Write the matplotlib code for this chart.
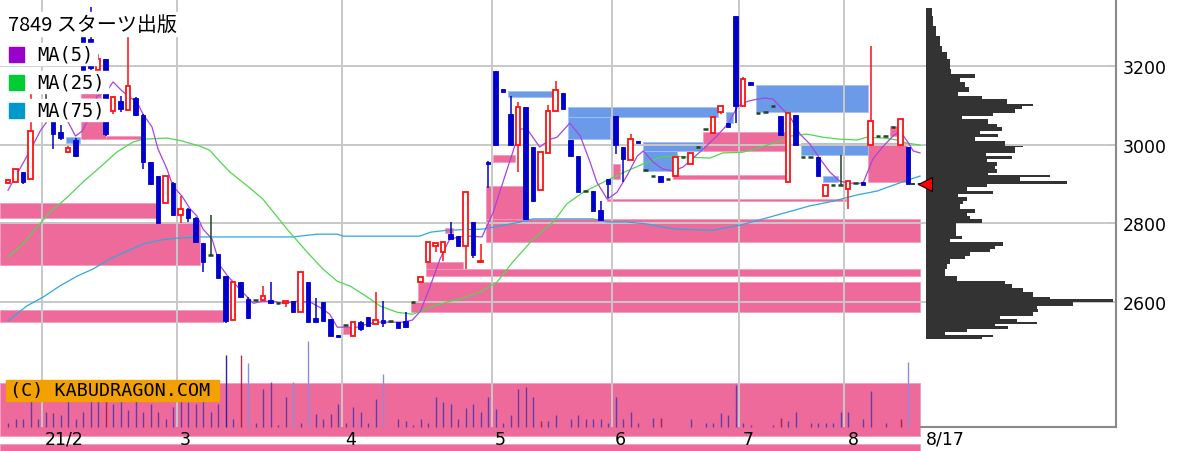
import numpy as np
import matplotlib
matplotlib.use('Agg')
import matplotlib.pyplot as plt
from matplotlib.patches import Rectangle
from matplotlib.transforms import Affine2D

plt.rcParams['font.family'] = ['DejaVu Sans']

# ---------------- data ----------------
opens = [2902, 2905, 2930, 2913, 3140, 3100, 3095, 3032, 2982, 3012,
         3275, 3270, 3190, 3218, 3086, 3111, 3088, 3119, 3076, 2956,
         2920, 2851, 2902, 2821, 2836, 2813, 2750, 2719, 2722, 2665,
         2554, 2651, 2607, 2604, 2604, 2604, 2597, 2597, 2602, 2574,
         2651, 2559, 2600, 2556, 2515, 2541, 2513, 2549, 2561, 2543,
         2553, 2551, 2548, 2551, 2600, 2651, 2700, 2742, 2727, 2772,
         2768, 2742, 2803, 2700, 2956, 3188, 3142, 3078, 3000, 3096,
         2994, 2885, 2979, 3086, 3132, 3012, 2972, 2882, 2882, 2834,
         2913, 3073, 2994, 2961, 3010, 2936, 2920, 2920, 2912, 2920,
         2968, 2951, 2994, 3040, 3030, 3083, 3055, 3328, 3099, 3160,
         3081, 3083, 3099, 3073, 2905, 3076, 2968, 2968, 2969, 2870,
         2898, 2898, 2887, 2903, 2905, 3000, 3022, 3022, 3045, 3000,
         2994]
highs = [2912, 2938, 2930, 3130, 3175, 3135, 3100, 3050, 2997, 3017,
         3280, 3350, 3230, 3218, 3125, 3124, 3277, 3121, 3078, 2956,
         2920, 2920, 2905, 2870, 2838, 2815, 2750, 2821, 2722, 2665,
         2651, 2651, 2612, 2604, 2640, 2651, 2597, 2602, 2602, 2676,
         2651, 2610, 2600, 2556, 2515, 2541, 2549, 2551, 2561, 2625,
         2602, 2551, 2548, 2574, 2600, 2662, 2751, 2750, 2752, 2803,
         2768, 2880, 2803, 2748, 2958, 3188, 3142, 3124, 3109, 3096,
         2994, 2981, 3101, 3162, 3132, 3012, 2972, 2882, 2882, 2857,
         2913, 3073, 2994, 3027, 3010, 2936, 2920, 2920, 2912, 2968,
         2968, 2979, 2994, 3040, 3071, 3098, 3055, 3328, 3173, 3160,
         3081, 3083, 3099, 3073, 3081, 3076, 2968, 2968, 2969, 2898,
         2898, 2974, 2908, 2903, 2905, 3252, 3022, 3022, 3045, 3066,
         2994]
lows = [2900, 2905, 2900, 2913, 3135, 3095, 2989, 3012, 2980, 2969,
        3185, 3190, 3185, 3022, 3078, 3083, 3086, 3073, 2938, 2898,
        2800, 2851, 2818, 2800, 2802, 2750, 2675, 2719, 2660, 2545,
        2554, 2612, 2556, 2604, 2604, 2594, 2597, 2587, 2574, 2574,
        2549, 2549, 2551, 2513, 2510, 2541, 2513, 2526, 2538, 2543,
        2536, 2551, 2533, 2533, 2600, 2651, 2700, 2727, 2704, 2760,
        2742, 2683, 2711, 2698, 2890, 3000, 3135, 3000, 2931, 2811,
        2854, 2885, 2979, 3086, 3091, 2972, 2880, 2882, 2831, 2808,
        2864, 2977, 2905, 2961, 3005, 2936, 2920, 2905, 2912, 2920,
        2968, 2951, 2994, 3040, 3030, 3078, 3045, 3055, 3099, 3152,
        3081, 3083, 3099, 3025, 2905, 3000, 2968, 2968, 2920, 2870,
        2898, 2898, 2836, 2903, 2898, 3000, 3022, 3022, 3045, 3000,
        2900]
closes = [2910, 2938, 2905, 3035, 3165, 3100, 3027, 3017, 2992, 2972,
          3190, 3195, 3218, 3027, 3122, 3091, 3149, 3075, 2956, 2900,
          2800, 2920, 2821, 2836, 2813, 2752, 2700, 2719, 2660, 2551,
          2651, 2612, 2558, 2604, 2615, 2597, 2597, 2602, 2574, 2676,
          2549, 2549, 2551, 2513, 2510, 2541, 2549, 2531, 2538, 2554,
          2546, 2551, 2533, 2536, 2600, 2662, 2751, 2750, 2752, 2760,
          2742, 2880, 2719, 2703, 2950, 3000, 3135, 3000, 3096, 2811,
          2857, 2981, 3086, 3140, 3091, 2972, 2880, 2882, 2831, 2808,
          2900, 3000, 2964, 3014, 3005, 2936, 2920, 2905, 2912, 2968,
          2968, 2979, 2994, 3040, 3071, 3098, 3045, 3099, 3168, 3152,
          3081, 3083, 3099, 3025, 3081, 3000, 2968, 2968, 2920, 2898,
          2898, 2898, 2908, 2903, 2898, 3061, 3022, 3022, 3045, 3066,
          2900]
volume = [13, 23, 23, 78, 23, 45, 41, 35, 78, 23,
          45, 78, 78, 78, 68, 78, 51, 78, 45, 68,
          45, 23, 61, 78, 75, 68, 78, 45, 68, 215,
          23, 215, 191, 13, 113, 135, 5, 90, 135, 13,
          258, 40, 23, 40, 68, 13, 61, 45, 13, 85,
          158, 1, 23, 18, 5, 23, 13, 90, 75, 68,
          23, 56, 68, 45, 90, 53, 13, 35, 113, 120,
          91, 18, 18, 35, 1, 23, 35, 23, 23, 23,
          13, 91, 23, 45, 13, 1, 28, 28, 1, 1,
          1, 23, 1, 13, 13, 41, 35, 125, 13, 5,
          1, 1, 5, 28, 18, 45, 1, 13, 13, 13,
          13, 45, 45, 1, 23, 108, 1, 13, 1, 23,
          196]
vol_red = [13, 31, 51, 71, 87, 103, 119]
vol_light = [32, 38, 40, 50, 120]
vol_dark = [29]

# moving averages: (bar index, price)
ma5_x = [0, 3.2, 4.3, 5.9, 8, 9, 9.9, 10.7, 11.9, 13.2, 14, 15.2, 16, 17.2, 18, 19.2, 20, 21.2, 22,
         23.2, 24.3, 25.2, 26, 27.2, 28.3, 29.3, 31.3, 32.7, 34, 35.3, 36.7, 38.5, 40.3, 42, 42.9,
         43.9, 45.2, 46.5, 47.9, 49.2, 50.9, 52.7, 53.9, 55, 56.3, 57.6, 58.9, 60.3, 61.6, 63.2,
         64.7, 66, 67.3, 68.3, 69.2, 70.9, 72.3, 73.2, 74.9, 76.3, 77.6, 78.5, 79.9, 81.2, 82.5,
         83.9, 84.7, 86, 87.3, 88.7, 90, 92.7, 94.5, 96, 97.3, 98.7, 99.9, 100.9, 102, 102.9,
         104.3, 105.6, 106.9, 108.3, 109.6, 110.9, 112.3, 114, 115.3, 116.7, 118, 118.9, 119.9,
         120.7, 121.6]
ma5_y = [2884, 2994, 3035, 3078, 3058, 3022, 3035, 3065, 3124, 3137, 3160, 3137, 3124, 3109, 3078,
         3045, 2989, 2938, 2894, 2869, 2836, 2818, 2785, 2760, 2691, 2665, 2624, 2596, 2601, 2601,
         2596, 2601, 2599, 2581, 2568, 2535, 2535, 2535, 2543, 2548, 2548, 2548, 2553, 2576, 2640,
         2709, 2760, 2765, 2767, 2765, 2828, 2905, 2981, 3040, 3040, 2994, 3014, 3019, 3055, 3022,
         2956, 2905, 2861, 2879, 2920, 2971, 2984, 2956, 2938, 2933, 2943, 2989, 3022, 3053, 3098,
         3111, 3116, 3119, 3116, 3098, 3070, 3027, 3002, 2963, 2930, 2907, 2902, 2902, 2963, 2996,
         3022, 3035, 3009, 2984, 2979]
ma25_x = [0, 2, 3.3, 5.6, 7.9, 10, 12.3, 14.5, 16.7, 18, 21.2, 23.3, 25.6, 26.9, 28.3, 29.6, 31.9,
          34, 37.2, 39.9, 42, 43.9, 45.6, 47.9, 49.6, 51.9, 54, 56.3, 58.5, 60.3, 62.9, 65.2, 67.3,
          70, 72.7, 74.5, 76.7, 78.9, 80.7, 82.5, 84.7, 86.9, 88.9, 90.9, 93.6, 95.3, 98, 99.9,
          102.5, 104.3, 106.5, 108.7, 110.9, 113.2, 114.5, 116.7, 118.5, 119.9, 121.6]
ma25_y = [2714, 2747, 2777, 2828, 2866, 2905, 2943, 2981, 3007, 3014, 3017, 3009, 2996, 2986, 2956,
          2930, 2895, 2861, 2785, 2726, 2683, 2652, 2640, 2612, 2589, 2573, 2568, 2586, 2599, 2607,
          2624, 2650, 2701, 2759, 2803, 2849, 2879, 2900, 2917, 2933, 2951, 2968, 2971, 2968, 2966,
          2979, 2981, 2991, 3007, 3022, 3027, 3019, 3014, 3012, 3019, 3017, 3012, 3004, 2999]
ma75_x = [0, 2.5, 4.7, 6.9, 9.2, 11.3, 13.6, 15.9, 18, 20.3, 22.5, 25.6, 38, 41.2, 43.9, 44.7, 54.9,
          56.3, 58.5, 63.3, 65.6, 68.3, 70, 78, 79.9, 82.5, 85.2, 87.3, 89.2, 94, 97.6, 100.7,
          103.9, 106.9, 110, 113.2, 115.9, 118.5, 120.3, 121.6]
ma75_y = [2551, 2589, 2612, 2640, 2665, 2683, 2709, 2729, 2747, 2757, 2762, 2765, 2765, 2772, 2772,
          2767, 2767, 2777, 2782, 2785, 2793, 2803, 2811, 2811, 2803, 2803, 2798, 2790, 2785, 2782,
          2795, 2811, 2828, 2844, 2856, 2872, 2882, 2900, 2912, 2920]

# price zones: (start index, end index, low, high)
support_zones = [(-1.1, 19.9, 2813, 2851), (-1.1, 25.6, 2693, 2803), (-1.1, 28.7, 2548, 2579),
                 (9.7, 12.4, 3119, 3131), (9.7, 13.1, 3014, 3062), (13.1, 18.0, 3014, 3022),
                 (44.7, 46.1, 2517, 2535), (53.7, 121.6, 2574, 2602), (54.7, 121.6, 2602, 2650),
                 (55.7, 60.7, 2683, 2701), (55.7, 121.6, 2665, 2683), (58.3, 59.3, 2776, 2787),
                 (63.7, 121.6, 2752, 2811), (63.7, 68.7, 2811, 2894), (64.7, 67.6, 2956, 2974),
                 (80.7, 81.6, 2913, 2951), (79.8, 111.7, 2857, 2862), (88.7, 103.9, 2913, 2922),
                 (92.7, 103.9, 2984, 3033), (94.0, 95.3, 3083, 3091), (114.7, 119.9, 2905, 3004),
                 (117.6, 118.7, 3022, 3047), (-1.1, 121.6, 2258, 2393), (-1.1, 121.6, 2150, 2237)]
resist_zones = [(7.7, 9.6, 3004, 3019), (66.7, 72.7, 3122, 3137), (74.7, 94.7, 3070, 3096),
                (74.7, 80.3, 3014, 3070), (84.7, 92.7, 2984, 3007), (84.7, 89.2, 2933, 2984),
                (95.7, 96.7, 3055, 3083), (99.7, 114.7, 3083, 3152), (105.7, 114.7, 2974, 3004),
                (108.7, 110.7, 2905, 2920)]

# volume-by-price profile
prof_edges = [3347, 3329, 3303, 3278, 3252, 3235, 3218, 3193, 3180, 3171, 3159, 3146, 3133, 3125,
              3116, 3103, 3099, 3091, 3082, 3074, 3065, 3053, 3044, 3036, 3027, 3019, 3010, 2997,
              2993, 2980, 2972, 2963, 2955, 2946, 2938, 2929, 2923, 2917, 2908, 2900, 2891, 2883,
              2874, 2866, 2857, 2849, 2836, 2827, 2819, 2810, 2800, 2793, 2768, 2761, 2751, 2743,
              2734, 2726, 2717, 2709, 2696, 2683, 2666, 2653, 2645, 2636, 2624, 2613, 2607, 2598,
              2590, 2581, 2573, 2564, 2556, 2549, 2543, 2537, 2530, 2522, 2515, 2511, 2506]
prof_len = [17, 22, 30, 42, 47, 62, 72, 74, 147, 102, 117, 130, 97, 167, 242, 322, 287, 267, 202,
            107, 187, 212, 227, 162, 217, 147, 237, 292, 267, 180, 257, 182, 212, 207, 212, 187,
            372, 282, 422, 182, 122, 202, 97, 122, 112, 102, 147, 122, 132, 167, 90, 90, 107, 72,
            230, 207, 192, 132, 117, 72, 62, 57, 92, 237, 257, 292, 322, 372, 560, 442, 332, 337,
            322, 222, 272, 332, 207, 247, 122, 57, 202, 167]

month_labels = ['21/2', '3', '4', '5', '6', '7', '8']
month_pos = [4.5, 22.5, 44.5, 64.5, 80.5, 97.5, 111.5]
last_date = '8/17'
price_ticks = [3200, 3000, 2800, 2600]
title = '7849 スターツ出版'
ma_names = ['MA(5)', 'MA(25)', 'MA(75)']

# ---------------- layout ----------------
W, H = 1200, 452
YMIN, YMAX = 2219.6, 3371.2
XMIN, XMAX = -1.067, 147.73
P_BOTTOM = 2281          # price at the bottom axis line

PINK = '#ee6a9b'
SKY = '#6b9be8'
RED = '#ff1010'
BLUE = '#0000cc'
DOJI = '#1e4620'
GRID = '#c8c8c8'

fig = plt.figure(figsize=(W / 100, H / 100), dpi=100)
px = Affine2D().scale(1 / W, -1 / H).translate(0, 1) + fig.transFigure

ax = fig.add_axes([0, 0, 1116 / W, 1])
ax.set_xlim(XMIN, XMAX)
ax.set_ylim(YMIN, YMAX)

# volume lives on a twin axis (created first: twinx resets tick sides)
vax = ax.twinx()
vax.set_ylim(-72, 1284)
vax.set_xlim(XMIN, XMAX)
vax.axis('off')

for s in ['top', 'left', 'bottom']:
    ax.spines[s].set_visible(False)
ax.spines['right'].set_visible(True)
ax.spines['right'].set_color('#8a8a8a')
ax.spines['right'].set_linewidth(1.5)
ax.spines['right'].set_bounds(P_BOTTOM, YMAX)
ax.set_xticks([])
ax.set_yticks(price_ticks)
ax.set_yticklabels([str(t) for t in price_ticks])
ax.yaxis.set_ticks_position('right')
ax.yaxis.set_label_position('right')
ax.tick_params(axis='y', which='both', left=False, labelleft=False, right=True,
               labelright=True, direction='in', length=6, color='#8a8a8a', width=1.2,
               labelsize=12.5, pad=5)

# grid
ax.hlines(price_ticks, XMIN, XMAX, colors=GRID, lw=1.4, zorder=2)
ax.vlines(month_pos, P_BOTTOM, YMAX, colors=GRID, lw=1.4, zorder=2)
ax.plot([121.7, XMAX], [P_BOTTOM, P_BOTTOM], color='#8a8a8a', lw=1.5, zorder=2, clip_on=False)

# zones
for s0, s1, lo, hi in support_zones:
    ax.bar(s0, hi - lo, width=s1 - s0, bottom=lo, align='edge', color=PINK,
           edgecolor='#f49cbd', lw=0.6, zorder=1)
for s0, s1, lo, hi in resist_zones:
    ax.bar(s0, hi - lo, width=s1 - s0, bottom=lo, align='edge', color=SKY,
           edgecolor='#a3c1f2', lw=0.6, zorder=1)

# moving averages
ax.plot(ma75_x, ma75_y, color='#2fa8dc', lw=0.9, zorder=3)
ax.plot(ma25_x, ma25_y, color='#4fd84f', lw=0.9, zorder=3)
ax.plot(ma5_x, ma5_y, color='#a844dd', lw=0.9, zorder=3)

# candles
o = np.array(opens, float)
h = np.array(highs, float)
l = np.array(lows, float)
c = np.array(closes, float)
x = np.arange(len(o))
up = c > o
dn = c < o
dj = c == o
wick_col = np.where(up, RED, np.where(dn, BLUE, DOJI))
ax.vlines(x, l, h, colors=wick_col, lw=1.1, zorder=5)
ax.bar(x[up], c[up] - o[up], bottom=o[up], width=0.55, facecolor='white',
       edgecolor=RED, lw=1.3, zorder=6)
ax.bar(x[dn], o[dn] - c[dn], bottom=c[dn], width=0.6, color=BLUE,
       edgecolor=BLUE, lw=0.6, zorder=6)
ax.hlines(c[dj], x[dj] - 0.33, x[dj] + 0.33, colors=DOJI, lw=1.8, zorder=6)
ax.hlines(c[-1], x[-1] + 0.4, x[-1] + 1.6, colors=DOJI, lw=1.4,
          linestyles=(0, (2, 1.5)), zorder=6)

# date labels
xt = ax.get_xaxis_transform()
for m, p in zip(month_labels, month_pos):
    ax.text(p + 0.45, 0.027, m, transform=xt, fontsize=12.5, va='center', ha='left', zorder=8)
ax.text(122.4, 0.027, last_date, transform=xt, fontsize=12.5, va='center', ha='left')

# volume bars
vcol = []
for i in range(len(volume)):
    if i in vol_red:
        vcol.append((0.62, 0.12, 0.25, 0.9))
    elif i in vol_light:
        vcol.append((0.55, 0.55, 0.85, 1.0))
    elif i in vol_dark:
        vcol.append((0.15, 0.15, 0.65, 1.0))
    else:
        vcol.append((0.2, 0.18, 0.68, 0.75))
vax.vlines(x, 0, volume, colors=vcol, lw=1.0)

# volume-by-price profile
pax = fig.add_axes([926 / W, 0, 190 / W, 1])
pax.set_ylim(YMIN, YMAX)
pax.set_xlim(0, 570)
pax.axis('off')
pe = np.array(prof_edges, float)
pax.barh(pe[1:], prof_len, height=pe[:-1] - pe[1:], align='edge', color='#333333', lw=0)
pax.plot([-1.5], [closes[-1]], marker='<', ms=10, color='#ff0000', mec='black', mew=0.8,
         clip_on=False, zorder=5)

# legend / title block (white backing like the original)
fig.add_artist(Rectangle((4, 13), 184, 24, transform=px, color='white', zorder=4))
fig.text(8, 25.5, title, transform=px, fontsize=14.4, va='center', ha='left',
         family=['Noto Sans CJK JP', 'DejaVu Sans'], zorder=5)
sq_cols = ['#9900cc', '#00cc33', '#0099cc']
row_y = [55, 83, 111]
row_w = [97, 108, 108]
for name, col, yy, ww in zip(ma_names, sq_cols, row_y, row_w):
    fig.add_artist(Rectangle((0, yy - 11), ww, 22, transform=px, color='white', zorder=4))
    fig.add_artist(Rectangle((9, yy - 7.5), 15, 15, transform=px, color=col, zorder=5))
    fig.text(37, yy, name, transform=px, fontsize=13.5, va='center', ha='left',
             family='DejaVu Sans Mono', zorder=6)

fig.add_artist(Rectangle((6, 381), 213, 21, transform=px, color='#f2a100', zorder=4))
fig.text(10, 391.5, '(C) KABUDRAGON.COM', transform=px, fontsize=13.2, va='center',
         ha='left', family='DejaVu Sans Mono', zorder=6)

fig.savefig('out.png', dpi=100)
